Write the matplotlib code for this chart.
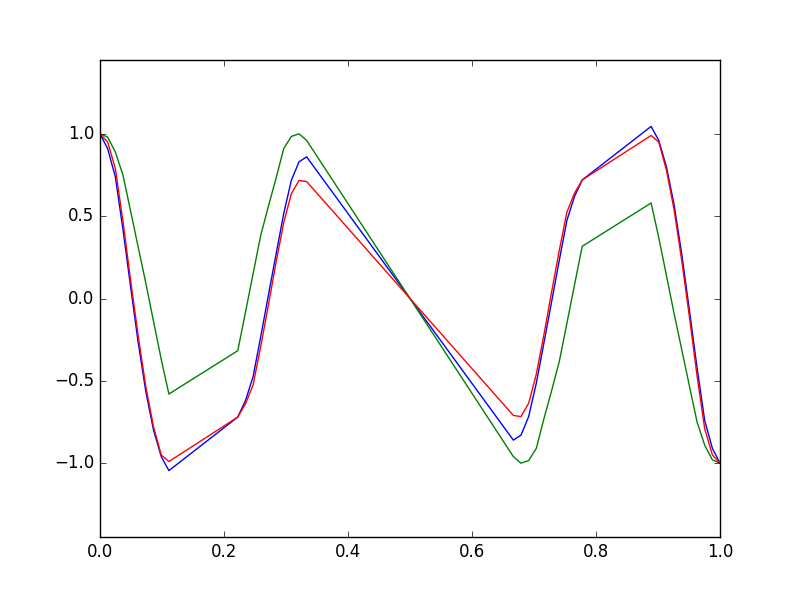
import matplotlib
matplotlib.use("Agg")
import matplotlib.pyplot as plt

plt.style.use("classic")

x = [0.0, 0.0123, 0.0247, 0.0370, 0.0494, 0.0617, 0.0741, 0.0864, 0.0988, 0.1111,
     0.2222, 0.2346, 0.2469, 0.2593, 0.2716, 0.2840, 0.2963, 0.3086, 0.3210, 0.3333,
     0.6667, 0.6790, 0.6914, 0.7037, 0.7160, 0.7284, 0.7407, 0.7531, 0.7654, 0.7778,
     0.8889, 0.9012, 0.9136, 0.9259, 0.9383, 0.9506, 0.9630, 0.9753, 0.9877, 1.0]

blue = [1.0, 0.91, 0.74, 0.42, 0.07, -0.27, -0.57, -0.80, -0.96, -1.045,
        -0.72, -0.62, -0.475, -0.23, 0.02, 0.27, 0.515, 0.717, 0.83, 0.86,
        -0.86, -0.83, -0.717, -0.515, -0.27, -0.02, 0.23, 0.475, 0.62, 0.72,
        1.045, 0.96, 0.80, 0.57, 0.27, -0.07, -0.42, -0.74, -0.91, -1.0]

red = [1.0, 0.95, 0.79, 0.47, 0.11, -0.23, -0.54, -0.78, -0.95, -0.99,
       -0.72, -0.64, -0.525, -0.29, -0.04, 0.22, 0.46, 0.636, 0.717, 0.71,
       -0.71, -0.717, -0.636, -0.46, -0.22, 0.04, 0.29, 0.525, 0.64, 0.72,
       0.99, 0.95, 0.78, 0.54, 0.23, -0.11, -0.47, -0.79, -0.95, -1.0]

green = [1.0, 0.98, 0.89, 0.75, 0.53, 0.31, 0.09, -0.14, -0.37, -0.58,
         -0.317, -0.084, 0.15, 0.384, 0.56, 0.73, 0.91, 0.984, 1.0, 0.96,
         -0.96, -1.0, -0.984, -0.91, -0.73, -0.56, -0.384, -0.15, 0.084, 0.317,
         0.58, 0.37, 0.14, -0.09, -0.31, -0.53, -0.75, -0.89, -0.98, -1.0]

fig = plt.figure(figsize=(8, 5.97), dpi=100)
ax = fig.add_subplot(111)
ax.plot(x, blue, color="b", lw=1.0)
ax.plot(x, green, color="g", lw=1.0)
ax.plot(x, red, color="r", lw=1.0)
ax.set_xlim(0, 1)
ax.set_ylim(-1.45, 1.45)
ax.set_yticks([-1.0, -0.5, 0.0, 0.5, 1.0])
fig.savefig("out.png", dpi=100)
